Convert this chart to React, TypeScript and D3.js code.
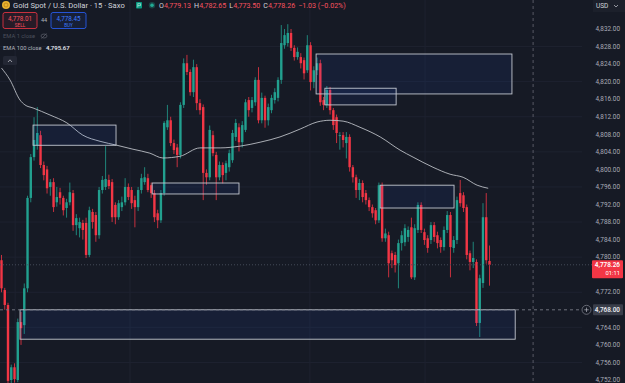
import React from 'react';
import * as d3 from 'd3';

const W = 625;
const H = 383;

// OHLC per 15-min candle (price units)
const opens = [4779.3,4772.5,4769.1,4752.0,4754.9,4752.0,4765.2,4764.5,4772.9,4793.5,4802.8,4805.5,4807.8,4801.0,4800.0,4796.0,4797.1,4792.5,4794.8,4793.5,4791.2,4792.5,4794.6,4787.3,4786.6,4787.8,4787.8,4780.5,4790.3,4789.6,4785.0,4795.3,4796.0,4797.6,4797.1,4791.9,4789.1,4791.4,4792.5,4796.0,4795.3,4793.0,4791.4,4795.3,4797.1,4798.0,4796.4,4794.6,4790.0,4788.4,4794.6,4809.6,4811.2,4806.0,4805.0,4803.3,4814.7,4824.2,4822.2,4817.6,4823.3,4815.1,4814.2,4799.2,4798.2,4807.8,4803.3,4798.2,4801.0,4799.2,4800.5,4802.1,4807.4,4809.6,4806.2,4809.0,4815.8,4814.0,4815.3,4820.4,4811.2,4816.3,4811.2,4813.5,4815.8,4816.3,4820.4,4828.3,4828.8,4831.1,4827.7,4825.6,4825.6,4824.9,4822.6,4828.3,4819.9,4822.6,4824.2,4815.8,4814.7,4818.1,4813.5,4811.9,4807.6,4807.8,4806.0,4807.4,4800.5,4798.2,4795.3,4796.9,4794.6,4793.0,4791.4,4790.7,4788.4,4796.4,4784.3,4785.0,4780.9,4780.5,4778.6,4783.2,4783.4,4784.6,4786.8,4775.4,4786.2,4791.9,4785.7,4784.3,4783.9,4787.3,4785.0,4783.9,4782.3,4786.2,4789.6,4782.1,4783.9,4794.6,4794.1,4791.4,4780.9,4778.9,4778.9,4765.0,4774.1,4789.1,4779.13];
const highs = [4780.5,4773.0,4769.6,4755.5,4755.8,4766.0,4767.5,4774.0,4794.0,4803.5,4811.9,4814.2,4808.8,4801.8,4800.8,4797.8,4798.0,4796.0,4795.8,4794.0,4793.3,4797.0,4795.3,4789.8,4789.0,4788.5,4789.0,4791.5,4791.0,4790.3,4796.0,4798.5,4805.3,4798.8,4797.8,4792.5,4793.0,4793.8,4798.0,4796.8,4796.0,4794.0,4796.0,4799.0,4800.5,4799.0,4797.0,4795.3,4790.8,4795.3,4811.0,4814.7,4812.0,4806.8,4805.8,4815.3,4825.3,4826.1,4822.8,4825.0,4824.0,4816.0,4814.8,4800.0,4810.0,4808.8,4804.0,4801.8,4801.6,4802.0,4804.5,4809.0,4811.5,4810.5,4811.0,4816.0,4816.5,4816.5,4821.0,4823.3,4817.5,4816.8,4815.0,4817.0,4818.5,4821.0,4832.9,4832.0,4833.1,4832.0,4828.3,4827.8,4826.5,4825.5,4830.6,4829.0,4823.5,4825.5,4825.0,4816.5,4819.0,4818.8,4814.0,4812.5,4808.5,4808.5,4808.5,4808.0,4801.0,4798.8,4797.8,4797.5,4795.3,4793.6,4792.0,4791.2,4797.0,4797.0,4786.5,4785.8,4781.5,4781.2,4784.0,4786.0,4787.5,4787.0,4789.0,4787.5,4792.5,4792.5,4786.5,4785.0,4788.0,4788.0,4785.8,4784.5,4787.0,4790.5,4790.3,4784.8,4793.8,4797.6,4794.8,4792.0,4781.5,4783.5,4779.5,4776.0,4792.3,4794.6,4782.65];
const lows = [4772.0,4768.0,4750.5,4751.0,4751.4,4751.5,4760.0,4762.5,4772.0,4792.5,4802.0,4804.5,4800.3,4797.5,4794.5,4794.0,4790.3,4791.5,4792.0,4789.5,4789.0,4791.8,4786.0,4785.0,4784.5,4784.0,4779.8,4780.0,4786.5,4783.5,4784.2,4794.5,4795.3,4795.5,4788.0,4787.5,4788.5,4790.5,4791.8,4793.0,4791.0,4786.8,4790.5,4794.5,4796.5,4794.8,4793.5,4788.0,4786.6,4787.8,4794.0,4809.0,4805.3,4803.5,4800.5,4802.5,4814.0,4821.5,4816.8,4816.5,4813.5,4812.5,4793.0,4796.5,4797.5,4803.0,4793.0,4797.5,4796.8,4797.5,4799.5,4801.5,4806.5,4804.1,4805.0,4808.5,4812.0,4813.0,4814.5,4810.5,4810.5,4809.5,4810.0,4812.8,4815.0,4815.5,4819.5,4827.5,4828.0,4827.0,4824.8,4825.0,4823.0,4820.5,4822.0,4818.0,4818.5,4821.5,4814.5,4813.5,4814.0,4812.5,4809.0,4806.0,4804.5,4805.0,4802.5,4799.5,4797.0,4793.5,4793.0,4792.5,4792.0,4790.5,4789.0,4787.5,4787.8,4783.5,4783.5,4775.4,4777.5,4776.5,4772.9,4781.5,4782.5,4783.5,4775.0,4774.8,4785.5,4785.5,4782.8,4781.0,4783.0,4783.5,4782.0,4781.0,4781.5,4785.5,4775.4,4781.0,4783.0,4791.5,4790.3,4779.5,4777.0,4777.5,4764.3,4761.8,4773.0,4778.5,4773.5];
const closes = [4772.9,4769.1,4751.8,4754.9,4752.2,4765.2,4763.8,4772.9,4793.5,4802.8,4806.7,4808.3,4801.0,4798.7,4795.7,4797.1,4791.4,4793.7,4793.5,4790.7,4792.5,4794.8,4787.3,4788.9,4788.0,4786.2,4780.5,4790.7,4788.0,4785.0,4795.3,4797.6,4797.8,4796.2,4789.1,4789.1,4792.3,4792.5,4796.0,4793.7,4792.3,4791.4,4795.3,4798.0,4798.2,4795.3,4794.6,4789.1,4788.4,4794.6,4810.6,4811.2,4806.0,4804.4,4803.3,4814.7,4824.2,4822.2,4817.6,4823.3,4815.1,4813.5,4799.2,4798.2,4809.0,4803.7,4798.2,4801.0,4798.7,4801.4,4803.7,4808.3,4810.6,4806.2,4810.1,4815.3,4813.5,4815.8,4820.4,4811.2,4816.3,4811.2,4814.2,4816.3,4817.6,4820.4,4828.8,4830.6,4831.1,4827.7,4825.6,4826.8,4824.2,4821.9,4828.3,4819.9,4822.6,4824.2,4815.3,4814.7,4818.1,4813.5,4810.1,4808.3,4807.8,4806.7,4807.4,4800.5,4798.2,4795.3,4796.9,4793.7,4793.0,4791.4,4790.0,4788.4,4796.4,4784.3,4785.4,4778.6,4779.3,4778.2,4783.2,4785.0,4786.6,4786.2,4775.4,4786.6,4791.9,4786.2,4783.9,4782.1,4787.3,4784.6,4783.2,4782.3,4786.2,4789.6,4782.3,4783.9,4793.0,4792.3,4791.2,4780.5,4778.9,4779.8,4765.0,4775.2,4789.1,4779.3,4778.26];

// EMA 100 close, sampled along the candles (candle index, price)
const emaIndex = [0,2.6,5.7,7.2,9.7,14.9,20.1,25,30.3,35.5,40.4,45.6,49.6,54.9,61,67.2,73.3,79.5,85.6,91.8,97,101,105,110.2,116.4,122.5,126.5,132.6,137.9,141.9,146.2,149.6];
const emaValue = [4823.1,4820.4,4815.8,4814.7,4814.0,4812.4,4810.6,4807.8,4806.4,4805.5,4804.6,4803.7,4802.6,4803.0,4804.9,4804.9,4805.3,4806.2,4807.4,4809.2,4810.8,4811.2,4811.0,4809.6,4807.4,4804.4,4802.8,4800.5,4798.9,4798.2,4796.4,4795.7];

// Rectangle drawings (candle index range, price range)
const boxStart = [9.7, 46.3, 96.7, 99.4, 116.4, 5.7];
const boxEnd = [35.2, 73, 156.9, 121.3, 139.1, 157.9];
const boxTop = [4810.1, 4796.9, 4826.3, 4818.5, 4796.4, 4768.0];
const boxBottom = [4805.5, 4794.4, 4817.2, 4814.7, 4791.2, 4761.3];

const priceTicks = d3.range(4752, 4840, 4);
const gridPrices = d3.range(4756, 4836, 8);
const gridIdx = [4.2, 39.5, 94.8, 130.2];
const cursorIdx = 163.4;

const lastPrice = 4778.26;
const alertPrice = 4768;
const countdown = '01:11';
const sellPrice = '4,778.01';
const buyPrice = '4,778.45';
const spread = '44';
const emaLast = '4,795.67';
const ohlcLabels = ['O', 'H', 'L', 'C'];
const ohlcValues = ['4,779.13', '4,782.65', '4,773.50', '4,778.26'];
const changeText = '−1.03 (−0.02%)';
const title = 'Gold Spot / U.S. Dollar · 15 · Saxo';

const BG = '#161a25';
const UP = '#22a08f';
const DOWN = '#f23645';
const FONT = 'Roboto, "Noto Sans", sans-serif';

export default function App() {
  const x = d3.scaleLinear().domain([0, 150]).range([1.5, 489.5]);
  const y = d3.scaleLinear().domain([4752, 4832]).range([380, 29]);
  const fmt = d3.format(',.2f');
  const bw = 2.4;

  const emaPts: [number, number][] = emaIndex.map((d, i) => [x(d), y(emaValue[i])]);
  const emaPath = d3.line().curve(d3.curveMonotoneX)(emaPts) || '';

  const yLast = y(lastPrice);
  const yAlert = y(alertPrice);

  // hide axis labels covered by the price / alert labels and the currency box
  const visibleTicks = priceTicks.filter((p) => {
    const yy = y(p);
    if (yy < 16) return false;
    if (yy > yLast - 5 && yy < yLast + 16) return false;
    if (Math.abs(yy - yAlert) < 8) return false;
    return true;
  });

  return (
    <svg width={W} height={H} style={{ position: 'fixed', left: 0, top: 0, display: 'block' }} fontFamily={FONT}>
      <rect x={0} y={0} width={W} height={H} fill={BG} />
      {/* grid */}
      {gridPrices.map((p) => (
        <line key={'gh' + p} x1={0} x2={582} y1={y(p)} y2={y(p)} stroke="#1e2230" strokeWidth={1} />
      ))}
      {gridIdx.map((g) => (
        <line key={'gv' + g} x1={x(g)} x2={x(g)} y1={0} y2={H} stroke="#1e2230" strokeWidth={1} />
      ))}
      {/* cursor vertical dashed */}
      <line x1={x(cursorIdx)} x2={x(cursorIdx)} y1={0} y2={H} stroke="#5d606b" strokeWidth={0.9} strokeDasharray="3,3" />

      {/* candles */}
      {opens.map((o, i) => {
        const c = closes[i];
        const col = c >= o ? UP : DOWN;
        const cx = x(i);
        const top = y(Math.max(o, c));
        const bot = y(Math.min(o, c));
        return (
          <g key={'c' + i}>
            <line x1={cx} x2={cx} y1={y(highs[i])} y2={y(lows[i])} stroke={col} strokeWidth={0.8} />
            <rect x={cx - bw / 2} y={top} width={bw} height={Math.max(0.8, bot - top)} fill={col} />
          </g>
        );
      })}

      {/* EMA */}
      <path d={emaPath} fill="none" stroke="#c4c7ce" strokeWidth={0.85} />

      {/* rectangles */}
      {boxStart.map((s, i) => (
        <rect
          key={'b' + i}
          x={x(s)}
          y={y(boxTop[i])}
          width={x(boxEnd[i]) - x(s)}
          height={y(boxBottom[i]) - y(boxTop[i])}
          fill="rgba(41,98,255,0.08)"
          stroke="#c3c7d0"
          strokeWidth={0.9}
        />
      ))}

      {/* alert line */}
      <line x1={0} x2={581} y1={yAlert} y2={yAlert} stroke="#787b86" strokeWidth={0.9} strokeDasharray="3,3" />
      {/* last price line */}
      <line x1={0} x2={592} y1={yLast} y2={yLast} stroke="#4a4f5e" strokeWidth={0.9} strokeDasharray="1,2" />

      {/* price axis */}
      {visibleTicks.map((p) => (
        <text key={'t' + p} x={620} y={y(p)} dy="0.35em" textAnchor="end" fontSize={6.4} fill="#a9acb6">
          {fmt(p)}
        </text>
      ))}
      {/* alert label */}
      <circle cx={586.5} cy={yAlert} r={4.5} fill={BG} stroke="#787b86" strokeWidth={0.8} />
      <line x1={584.3} x2={588.7} y1={yAlert} y2={yAlert} stroke="#b2b5be" strokeWidth={0.7} />
      <line x1={586.5} x2={586.5} y1={yAlert - 2.2} y2={yAlert + 2.2} stroke="#b2b5be" strokeWidth={0.7} />
      <rect x={593} y={yAlert - 5.5} width={30} height={11} rx={1} fill="#3a3e4a" />
      <text x={620} y={yAlert} dy="0.35em" textAnchor="end" fontSize={6.4} fontWeight={600} fill="#e8eaf0">
        {fmt(alertPrice)}
      </text>
      {/* last price label */}
      <rect x={592} y={yLast - 4.5} width={31} height={18} rx={1} fill={DOWN} />
      <text x={620} y={yLast} dy="0.35em" textAnchor="end" fontSize={6.4} fontWeight={600} fill="#ffffff">
        {fmt(lastPrice)}
      </text>
      <text x={620} y={yLast + 8} dy="0.35em" textAnchor="end" fontSize={5.8} fill="#ffffff">
        {countdown}
      </text>
      {/* USD */}
      <rect x={593} y={0} width={32} height={12} fill="#1c202b" />
      <text x={596} y={6} dy="0.35em" fontSize={6.5} fill="#d1d4dc">USD</text>
      <path d="M614,5 L616,7 L618,5" fill="none" stroke="#b2b5be" strokeWidth={0.8} />

      {/* header */}
      <circle cx={6} cy={5} r={4} fill="#e9b22f" />
      <circle cx={6} cy={5} r={2} fill="none" stroke="#b8801a" strokeWidth={0.8} />
      <text x={13} y={5.5} dy="0.35em" fontSize={7.6} fill="#d1d4dc">{title}</text>
      <rect x={136} y={2} width={6} height={6.5} rx={0.8} fill="#089981" />
      <path d="M137.8,3.5 L137.8,7.5 M137.8,3.7 L140.5,3.7 L140.5,5.6 L137.8,5.6" fill="none" stroke="#d6f5ef" strokeWidth={0.6} />
      <circle cx={152} cy={5.2} r={3.2} fill="rgba(34,171,148,0.3)" />
      <circle cx={152} cy={5.2} r={1.8} fill="#22ab94" />
      <text x={159} y={5.5} dy="0.35em" fontSize={7.1}>
        {ohlcLabels.map((l, i) => (
          <React.Fragment key={'o' + i}>
            <tspan fill="#d1d4dc" dx={i === 0 ? 0 : 3}>{l}</tspan>
            <tspan fill="#f7525f">{ohlcValues[i]}</tspan>
          </React.Fragment>
        ))}
        <tspan fill="#f7525f" dx={3}>{changeText}</tspan>
      </text>

      {/* sell / buy */}
      <rect x={3} y={12.5} width={34} height={16} rx={2} fill="rgba(242,54,69,0.08)" stroke={DOWN} strokeWidth={0.8} />
      <text x={20} y={18.5} dy="0.35em" textAnchor="middle" fontSize={6.3} fill="#f7525f">{sellPrice}</text>
      <text x={20} y={25} dy="0.35em" textAnchor="middle" fontSize={4.6} fill="#f7525f">SELL</text>
      <text x={44} y={20.5} dy="0.35em" textAnchor="middle" fontSize={5.5} fill="#b2b5be">{spread}</text>
      <rect x={51} y={12.5} width={35} height={16} rx={2} fill="rgba(41,98,255,0.08)" stroke="#2962ff" strokeWidth={0.8} />
      <text x={68.5} y={18.5} dy="0.35em" textAnchor="middle" fontSize={6.3} fill="#3d7bff">{buyPrice}</text>
      <text x={68.5} y={25} dy="0.35em" textAnchor="middle" fontSize={4.6} fill="#3d7bff">BUY</text>

      {/* indicator legends */}
      <text x={3} y={36} dy="0.35em" fontSize={5.8} fill="#4c505c">EMA 1 close</text>
      <ellipse cx={44} cy={36} rx={3} ry={2} fill="none" stroke="#5d606b" strokeWidth={0.7} />
      <line x1={41.5} x2={46.5} y1={38.5} y2={33.5} stroke="#5d606b" strokeWidth={0.7} />
      <text x={3} y={48} dy="0.35em" fontSize={5.8} fill="#b2b5be">EMA 100 close</text>
      <text x={46} y={48} dy="0.35em" fontSize={6} fontWeight={600} fill="#e1e3ea">{emaLast}</text>

      {/* collapse button */}
      <rect x={3} y={56} width={14} height={9} rx={1.5} fill="#232734" />
      <path d="M8,62 L10,59.8 L12,62" fill="none" stroke="#b2b5be" strokeWidth={0.8} />
    </svg>
  );
}
